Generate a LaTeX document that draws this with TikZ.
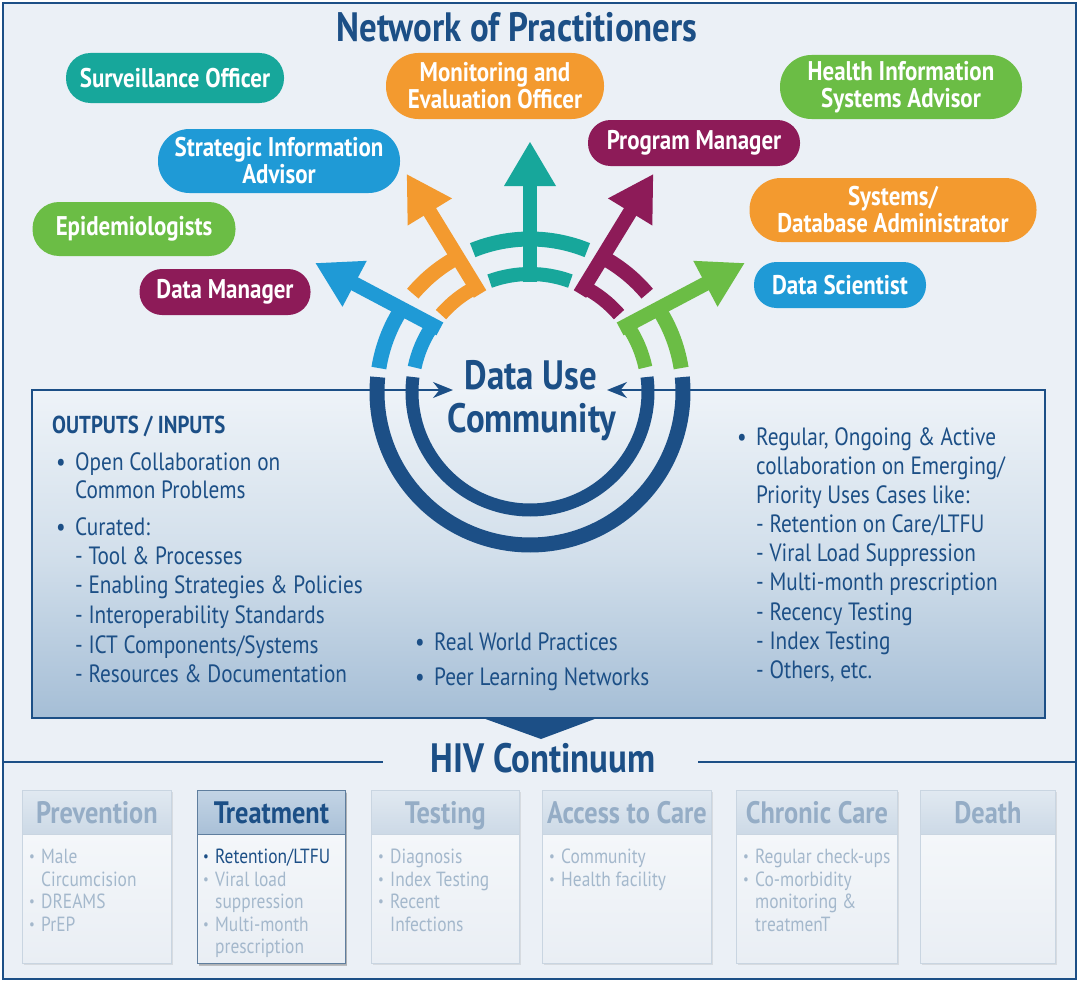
\documentclass[tikz,border=0pt]{standalone}
\usepackage{fontspec}
\setmainfont{PT Sans}[FakeStretch=0.85]
\usetikzlibrary{calc,shadows,arrows.meta}

\definecolor{navy}{HTML}{1C4F86}
\definecolor{cteal}{HTML}{17A79B}
\definecolor{corange}{HTML}{F39A2F}
\definecolor{cblue}{HTML}{1F9AD6}
\definecolor{cmaroon}{HTML}{8D1B58}
\definecolor{cgreen}{HTML}{6BBD45}
\definecolor{panel}{HTML}{EBF0F6}
\definecolor{boxtop}{HTML}{EEF3F8}
\definecolor{boxmid}{HTML}{D2DFEB}
\definecolor{boxbot}{HTML}{A5BED6}
\definecolor{fadehead}{HTML}{95ADC6}
\definecolor{fadetext}{HTML}{A4B8CC}
\definecolor{headtop}{HTML}{E1E9F1}
\definecolor{headbot}{HTML}{CCD9E6}
\definecolor{bodytop}{HTML}{F8FAFC}
\definecolor{bodybot}{HTML}{E9EEF4}
\definecolor{cardline}{HTML}{C9D5E1}
\definecolor{selhtop}{HTML}{C3D4E5}
\definecolor{selhbot}{HTML}{A9C0D7}
\definecolor{selline}{HTML}{5F7E9E}

\newcommand\bigfont{\fontsize{41}{46}\selectfont\bfseries}
\newcommand\pillfont{\fontsize{27}{27}\selectfont\bfseries}
\newcommand\txtfont{\fontsize{25}{30}\selectfont}
\newcommand\hdfont{\fontsize{24.5}{30}\selectfont\bfseries}
\newcommand\cardheadfont{\fontsize{31}{34}\selectfont\bfseries}
\newcommand\cardfont{\fontsize{20.5}{22}\selectfont}
\newcommand\bul{\makebox[19pt][l]{\textbullet}}
\newcommand\cbul{\makebox[12pt][l]{\fontsize{15}{15}\selectfont\raisebox{1.5pt}{\textbullet}}}

% one coloured arm of the fan: two ring segments and an arrow
% #1 colour, #2 shaft start angle, #3 tip angle,
% #4/#5 outer segment angles, #6/#7 inner segment angles
\newcommand\fanarm[7]{%
  \draw[#1, line width=15pt] ([shift={(C)}]#4:153pt) arc[start angle=#4, end angle=#5, radius=153pt];
  \draw[#1, line width=14pt] ([shift={(C)}]#6:118pt) arc[start angle=#6, end angle=#7, radius=118pt];
  \coordinate (armS) at ([shift={(C)}]#2:110pt);
  \coordinate (armT) at ([shift={(C)}]#3:250pt);
  \coordinate (armB) at ($(armT)!44pt!(armS)$);
  \draw[#1, line width=14.5pt] (armS) -- ($(armT)!40pt!(armS)$);
  \fill[#1] (armT) -- ($(armB)!26pt!90:(armT)$) -- ($(armB)!26pt!-90:(armT)$) -- cycle;
}

\tikzset{
  pill/.style={rectangle, fill=#1, text=white, font=\pillfont, align=center, inner sep=0pt},
  txt/.style={anchor=base west, inner sep=0pt, text=navy, font=\txtfont},
  ctxt/.style={anchor=base west, inner sep=0pt, text=fadetext, font=\cardfont},
  cardbody/.style={rectangle, anchor=north west, inner sep=0pt, draw=cardline, line width=0.8pt,
    top color=bodytop, bottom color=bodybot, minimum height=173pt,
    drop shadow={opacity=0.18, shadow xshift=1.5pt, shadow yshift=-2pt}},
  cardhead/.style={rectangle, anchor=north west, inner sep=0pt, draw=cardline, line width=0.8pt,
    top color=headtop, bottom color=headbot, minimum height=44pt,
    text height=21.5pt, text depth=0pt, font=\cardheadfont, text=fadehead},
  selbody/.style={cardbody, draw=selline, drop shadow={opacity=0.45, shadow xshift=2pt, shadow yshift=-2.5pt}},
  selhead/.style={cardhead, draw=selline, top color=selhtop, bottom color=selhbot, text=navy},
}

\begin{document}
\begin{tikzpicture}[x=1pt,y=1pt]
\useasboundingbox (0,0) rectangle (1079,-982);
\fill[white] (0,0) rectangle (1079,-982);
\fill[panel] (3,-3) rectangle (1076,-979);

% outputs / inputs box
\shade[top color=boxtop, bottom color=boxbot, middle color=boxmid] (32,-390) rectangle (1045,-718);
\draw[navy, line width=2pt, {Stealth[length=20pt,width=16pt]}-] (453,-390) -- (32,-390) -- (32,-718) -- (541,-718);
\draw[navy, line width=2pt, {Stealth[length=20pt,width=16pt]}-] (607,-390) -- (1045,-390) -- (1045,-718) -- (541,-718);
\fill[navy] (480,-717) -- (600,-717) -- (541,-739) -- cycle;

% frame and divider
\draw[navy, line width=2pt] (3,-762) -- (383,-762);
\draw[navy, line width=2pt] (698,-762) -- (1076,-762);
\draw[navy, line width=2.5pt] (3,-3) rectangle (1076,-979);

% community rings
\coordinate (C) at (530,-392);
\draw[navy, line width=15pt] ([shift={(C)}]174.4:153pt) arc[start angle=174.4, end angle=365.6, radius=153pt];
\draw[navy, line width=13pt] ([shift={(C)}]172.7:118pt) arc[start angle=172.7, end angle=367.3, radius=118pt];

\fanarm{cblue}{145}{149}{145}{171}{145}{168}
\fanarm{corange}{117}{119.5}{117}{140}{117}{139}
\fanarm{cteal}{90}{90}{68}{112}{70}{110}
\fanarm{cmaroon}{63}{60.5}{40}{63}{41}{63}
\fanarm{cgreen}{35}{31}{9}{35}{12}{35}

\node[anchor=base, inner sep=0pt, font=\bigfont, text=navy] (du) at (531,-389) {Data Use};
\node[anchor=base, inner sep=0pt, font=\bigfont, text=navy] (comm) at (532,-432) {Community};

% titles
\node[anchor=base, inner sep=0pt, font=\bigfont, text=navy] (title) at (517,-42) {Network of Practitioners};
\node[anchor=base, inner sep=0pt, font=\bigfont, text=navy] (hiv) at (543,-772) {HIV Continuum};

% practitioner roles
\node[pill=cteal, minimum width=218pt, minimum height=50pt, rounded corners=24.5pt] (surv) at (175,-78) {Surveillance Officer};
\node[pill=corange, minimum width=218pt, minimum height=66pt, rounded corners=32.5pt] (mne) at (495,-86) {Monitoring and\\Evaluation Officer};
\node[pill=cblue, minimum width=242pt, minimum height=64pt, rounded corners=31.5pt] (sia) at (279,-161) {Strategic Information\\Advisor};
\node[pill=cgreen, minimum width=203pt, minimum height=54pt, rounded corners=26.5pt] (epi) at (134,-229) {Epidemiologists};
\node[pill=cmaroon, minimum width=171pt, minimum height=46pt, rounded corners=22.5pt] (dm) at (225,-292) {Data Manager};
\node[pill=cgreen, minimum width=242pt, minimum height=64pt, rounded corners=31.5pt] (his) at (901,-87) {Health Information\\Systems Advisor};
\node[pill=cmaroon, minimum width=212pt, minimum height=46pt, rounded corners=22.5pt] (pm) at (694,-143) {Program Manager};
\node[pill=corange, minimum width=287pt, minimum height=64pt, rounded corners=31.5pt] (sdb) at (893,-210) {Systems/\\Database Administrator};
\node[pill=cblue, minimum width=172pt, minimum height=46pt, rounded corners=22.5pt] (ds) at (840,-285) {Data Scientist};

% left column
\node[txt, font=\hdfont] (oi) at (52,-433) {OUTPUTS / INPUTS};
\node[txt] (l1) at (56,-470) {\bul Open Collaboration on};
\node[txt] (l2) at (75,-498) {Common Problems};
\node[txt] (l3) at (56,-535) {\bul Curated:};
\node[txt] (l4) at (75,-564) {- Tool \& Processes};
\node[txt] (l5) at (75,-593) {- Enabling Strategies \& Policies};
\node[txt] (l6) at (75,-623) {- Interoperability Standards};
\node[txt] (l7) at (75,-653) {- ICT Components/Systems};
\node[txt] (l8) at (75,-682) {- Resources \& Documentation};

% middle column
\node[txt] (m1) at (415,-650) {\bul Real World Practices};
\node[txt] (m2) at (415,-685) {\bul Peer Learning Networks};

% right column
\node[txt] (r1) at (737,-445) {\bul Regular, Ongoing \& Active};
\node[txt] (r2) at (756,-474) {collaboration on Emerging/};
\node[txt] (r3) at (756,-503) {Priority Uses Cases like:};
\node[txt] (r4) at (756,-532) {- Retention on Care/LTFU};
\node[txt] (r5) at (756,-561) {- Viral Load Suppression};
\node[txt] (r6) at (756,-590) {- Multi-month prescription};
\node[txt] (r7) at (756,-620) {- Recency Testing};
\node[txt] (r8) at (756,-649) {- Index Testing};
\node[txt] (r9) at (756,-678) {- Others, etc.};

% HIV continuum cards
\node[cardbody, minimum width=149pt] (prevbox) at (22,-790) {};
\node[cardhead, minimum width=149pt] (prevhead) at (22,-790) {Prevention};
\node[ctxt] (p1) at (29,-863) {\cbul Male};
\node[ctxt] (p2) at (41,-886) {Circumcision};
\node[ctxt] (p3) at (29,-908) {\cbul DREAMS};
\node[ctxt] (p4) at (29,-931) {\cbul PrEP};

\node[selbody, minimum width=148pt] (treatbox) at (197,-790) {};
\node[selhead, minimum width=148pt] (treathead) at (197,-790) {Treatment};
\node[ctxt, text=navy] (t1) at (203,-863) {\cbul Retention/LTFU};
\node[ctxt] (t2) at (203,-886) {\cbul Viral load};
\node[ctxt] (t3) at (215,-908) {suppression};
\node[ctxt] (t4) at (203,-931) {\cbul Multi-month};
\node[ctxt] (t5) at (215,-953) {prescription};

\node[cardbody, minimum width=148pt] (testbox) at (371,-790) {};
\node[cardhead, minimum width=148pt] (testhead) at (371,-790) {Testing};
\node[ctxt] (s1) at (378,-863) {\cbul Diagnosis};
\node[ctxt] (s2) at (378,-886) {\cbul Index Testing};
\node[ctxt] (s3) at (378,-908) {\cbul Recent};
\node[ctxt] (s4) at (390,-931) {Infections};

\node[cardbody, minimum width=169pt] (accbox) at (542,-790) {};
\node[cardhead, minimum width=169pt] (acchead) at (542,-790) {Access to Care};
\node[ctxt] (a1) at (549,-863) {\cbul Community};
\node[ctxt] (a2) at (549,-886) {\cbul Health facility};

\node[cardbody, minimum width=161pt] (chrbox) at (736,-790) {};
\node[cardhead, minimum width=161pt] (chrhead) at (736,-790) {Chronic Care};
\node[ctxt] (c1) at (743,-863) {\cbul Regular check-ups};
\node[ctxt] (c2) at (743,-886) {\cbul Co-morbidity};
\node[ctxt] (c3) at (755,-908) {monitoring \&};
\node[ctxt] (c4) at (755,-931) {treatmenT};

\node[cardbody, minimum width=135pt] (deathbox) at (920,-790) {};
\node[cardhead, minimum width=135pt] (deathhead) at (920,-790) {Death};
\end{tikzpicture}
\end{document}
